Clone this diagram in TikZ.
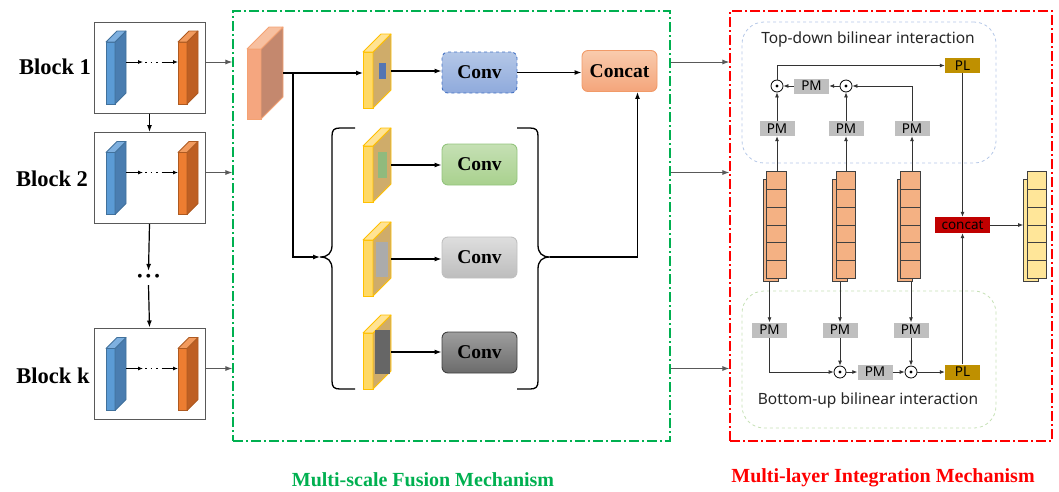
\documentclass[tikz,border=0pt]{standalone}
\usepackage{fontspec}
\setmainfont{Liberation Serif}
\setsansfont{Noto Sans}
\usepackage{tikz}
\usetikzlibrary{arrows.meta,decorations.markings,shapes.multipart}
\definecolor{blueF}{HTML}{5B9BD5}
\definecolor{blueS}{HTML}{4A7DB0}
\definecolor{blueT}{HTML}{7EB0E0}
\definecolor{blueD}{HTML}{41719C}
\definecolor{orgF}{HTML}{ED7D31}
\definecolor{orgS}{HTML}{BE5F23}
\definecolor{orgT}{HTML}{F29B5E}
\definecolor{orgD}{HTML}{AE5A21}
\definecolor{bigF}{HTML}{F5A67F}
\definecolor{bigS}{HTML}{C4886E}
\definecolor{bigT}{HTML}{F7C0A0}
\definecolor{bigD}{HTML}{F4A273}
\definecolor{ylwF}{HTML}{FFD966}
\definecolor{ylwS}{HTML}{CFAC6A}
\definecolor{ylwT}{HTML}{FFE394}
\definecolor{ylwD}{HTML}{FFC000}
\definecolor{fusegreen}{HTML}{00B050}
\definecolor{integred}{HTML}{FF0000}
\definecolor{pmgray}{HTML}{BFBFBF}
\definecolor{plgold}{HTML}{BF9000}
\definecolor{ccred}{HTML}{C00000}
\definecolor{cellorg}{HTML}{F4B183}
\definecolor{cellylw}{HTML}{FFE699}
\definecolor{convbT}{HTML}{B4C7E7}
\definecolor{convbB}{HTML}{8FAADC}
\definecolor{convbD}{HTML}{4472C4}
\definecolor{convgT}{HTML}{C5E0B4}
\definecolor{convgB}{HTML}{A9D18E}
\definecolor{convgD}{HTML}{93C47D}
\definecolor{catT}{HTML}{F9CBAD}
\definecolor{catB}{HTML}{F4A57B}
\definecolor{catD}{HTML}{F19A68}
\tikzset{
	pics/slab/.style n args = {4}{code={
		\node[draw=#4D, fill=#4F, line width=0.8pt, minimum width=#1pt, minimum height=#2pt,
			inner sep=0pt, outer sep=0pt] (-f) at (0,0) {};
		\filldraw[draw=#4D, fill=#4S, line width=0.8pt, line join=round]
			(-f.north east) -- ++(#3,-#3) -- ++(0,#2) -- (-f.south east) -- cycle;
		\filldraw[draw=#4D, fill=#4T, line width=0.8pt, line join=round]
			(-f.north west) -- ++(#3,-#3) -- ++(#1,0) -- (-f.north east) -- cycle;
		\coordinate (-e) at ([shift={(#3,-#3)}]-f.east);
		\coordinate (-c) at ([shift={(#3,-#3/2)}]-f.east);
		\coordinate (-m) at ([shift={(#3/2,-#3/2)}]-f.east);
	}},
	blockbox/.style   = {draw=black!65, line width=1pt, minimum width=111pt, minimum height=91pt},
	blocklabel/.style = {font=\fontsize{22.5}{27}\selectfont\bfseries},
	convbox/.style    = {shape=rectangle, rounded corners=6pt, draw, line width=0.9pt,
		minimum width=75pt, minimum height=41pt, font=\fontsize{19.5}{22}\selectfont\bfseries},
	mechframe/.style  = {draw, line width=1.2pt, dash pattern=on 10pt off 3pt on 2pt off 3pt,
		minimum height=430pt},
	caption/.style    = {font=\fontsize{20}{24}\selectfont\bfseries},
	patch/.style      = {inner sep=0pt, minimum width=#1pt},
	arr/.style        = {-{Latex[length=7pt,width=5pt]}, line width=1.2pt},
	garr/.style       = {-{Latex[length=7pt,width=5pt]}, line width=1pt, black!65},
	sarr/.style       = {-{Latex[length=5pt,width=4pt]}, line width=0.8pt, black!80},
	skiparrow/.style  = {-{Latex[length=5pt,width=4pt]}, line width=0.9pt,
		dash pattern=on 15pt off 4pt on 1.5pt off 4pt on 1.5pt off 4pt on 1.5pt off 4pt on 40pt,
		postaction={decorate}, decoration={markings,
		mark=at position 17pt with {\arrow{Latex[length=5pt,width=4pt]}}}},
	bracepath/.style  = {line width=1.3pt},
	interbox/.style   = {draw, dashed, line width=0.8pt, rounded corners=22pt,
		minimum width=254pt},
	titletext/.style  = {font=\sffamily\fontsize{15.5}{18}\selectfont, text=black!85},
	pmbox/.style      = {fill=pmgray, minimum width=35pt, minimum height=15pt, inner sep=0pt,
		font=\sffamily\fontsize{13.5}{13.5}\selectfont},
	plbox/.style      = {pmbox, fill=plgold},
	odot/.style       = {circle, draw, line width=0.8pt, fill=white, minimum size=12pt, inner sep=0pt,
		path picture={\fill[black] (path picture bounding box.center) circle (1.7pt);}},
	cellstack/.style  = {rectangle split, rectangle split parts=6, draw=black!75, fill=cellorg,
		line width=0.8pt, inner sep=0pt, rectangle split empty part width=15pt,
		rectangle split empty part height=17pt, rectangle split empty part depth=0pt},
	cellback/.style   = {draw=black!75, fill=cellorg, line width=0.8pt, inner sep=0pt,
		minimum width=15pt, minimum height=102pt}
}
\begin{document}
\begin{tikzpicture}[x=1pt, y=-1pt]
\useasboundingbox (0,0) rectangle (1059,491);

\node [mechframe, draw=fusegreen, minimum width=437pt] (fusion) at (451.5,226) {};
\node [mechframe, draw=integred, minimum width=322pt] (integ) at (891,226) {};
\node [caption, text=fusegreen] (fcap) at (423,480) {Multi-scale Fusion Mechanism};
\node [caption, text=integred] (icap) at (883,478) {Multi-layer Integration Mechanism};

\node [blockbox] (bx1) at (149.5,67.5) {};
\node [blockbox] (bx2) at (149.5,178) {};
\node [blockbox] (bxk) at (149.5,373.5) {};
\node [blocklabel] (lb1) at (55,67) {Block 1};
\node [blocklabel] (lb2) at (52,179) {Block 2};
\node [blocklabel] (lbk) at (53,376) {Block k};
\pic (bl1) at (110.5,73) {slab={9}{62}{11}{blue}};
\pic (or1) at (182.5,73) {slab={9}{62}{11}{org}};
\pic (bl2) at (110.5,183.5) {slab={9}{62}{11}{blue}};
\pic (or2) at (182.5,183.5) {slab={9}{62}{11}{org}};
\pic (blk) at (110.5,379.5) {slab={9}{62}{11}{blue}};
\pic (ork) at (182.5,379.5) {slab={9}{62}{11}{org}};
\draw[skiparrow] (bl1-e) -- (or1-f.west |- bl1-e);
\draw[skiparrow] (bl2-e) -- (or2-f.west |- bl2-e);
\draw[skiparrow] (blk-e) -- (ork-f.west |- blk-e);
\node [font=\fontsize{16}{16}\selectfont] (vdots) at (148.5,278) {\textbullet\hspace{3pt}\textbullet\hspace{3pt}\textbullet};
\draw[arr] (bx1.south) -- (bx2.north);
\draw[arr] (bx2.south) -- (vdots.north);
\draw[arr] (vdots.south) -- (bxk.north);
\draw[garr] (bx1.east |- bl1-e) -- (fusion.west |- bl1-e);
\draw[garr] (bx2.east |- bl2-e) -- (fusion.west |- bl2-e);
\draw[garr] (bxk.east |- blk-e) -- (fusion.west |- blk-e);

\pic (big) at (254,84) {slab={14}{70}{22}{big}};
\pic (y1) at (368,80) {slab={10}{56}{18}{ylw}};
\pic (y2) at (368,174) {slab={10}{56}{18}{ylw}};
\pic (y3) at (368,268) {slab={10}{56}{18}{ylw}};
\pic (y4) at (368,361) {slab={10}{56}{18}{ylw}};
\node [patch=7, minimum height=16pt, fill=convbD!75!gray] (p1) at (y1-m) {};
\node [patch=9, minimum height=26pt, fill=convgD!85!gray] (p2) at (y2-m) {};
\node [patch=12, minimum height=35pt, fill=black!33] (p3) at (y3-m) {};
\node [patch=15, minimum height=44pt, fill=black!60] (p4) at (y4-m) {};
\node [convbox, dashed, draw=convbD, top color=convbT, bottom color=convbB] (c1) at (479.5,72.5) {Conv};
\node [convbox, draw=convgD, top color=convgT, bottom color=convgB] (c2) at (479.5,164.5) {Conv};
\node [convbox, draw=black!25, top color=black!13, bottom color=black!26] (c3) at (479.5,257.5) {Conv};
\node [convbox, draw=black!75, top color=black!38, bottom color=black!58] (c4) at (479.5,352.5) {Conv};
\node [convbox, draw=catD, top color=catT, bottom color=catB] (cat) at (619.5,71) {Concat};
\coordinate (split) at ([xshift=10pt]big-c);
\draw[arr] (big-c) -- (y1-f.west |- big-c);
\draw[bracepath] (355,128) -- (340,128) .. controls (334,128) and (332,130) .. (332,136) -- (332,245)
	.. controls (332,253) and (328,257) .. (320,257) .. controls (328,257) and (332,261) .. (332,269)
	-- (332,381) .. controls (332,387) and (334,389) .. (340,389) -- (355,389);
\coordinate (ltip) at (320,257);
\draw[bracepath] (517,128) -- (530,128) .. controls (536,128) and (538,130) .. (538,136) -- (538,245)
	.. controls (538,253) and (542,257) .. (550,257) .. controls (542,257) and (538,261) .. (538,269)
	-- (538,381) .. controls (538,387) and (536,389) .. (530,389) -- (517,389);
\coordinate (rtip) at (550,257);
\draw[arr] (split) |- (ltip);
\draw[arr] (y1-c) -- (c1.west |- y1-c);
\draw[arr] (y2-c) -- (c2.west |- y2-c);
\draw[arr] (y3-c) -- (c3.west |- y3-c);
\draw[arr] (y4-c) -- (c4.west |- y4-c);
\draw[arr] (c1.east) -- (cat.west |- c1.east);
\draw[arr] (rtip) -| ([xshift=18pt]cat.south);
\draw[garr] (fusion.east |- bl1-e) -- (integ.west |- bl1-e);
\draw[garr] (fusion.east |- bl2-e) -- (integ.west |- bl2-e);
\draw[garr] (fusion.east |- blk-e) -- (integ.west |- blk-e);

\node [interbox, draw=convbT, minimum height=141pt] (topdown) at (869,92.5) {};
\node [interbox, draw=convgT, minimum height=137pt] (bottomup) at (869,359.5) {};
\node [titletext] (tdtitle) at (868,39) {Top-down bilinear interaction};
\node [titletext] (butitle) at (868,400) {Bottom-up bilinear interaction};
\node [cellback] (s1b) at (770.5,230.5) {};
\node [cellstack] (s1) at (776.5,225) {};
\node [cellback] (s2b) at (840,230.5) {};
\node [cellstack] (s2) at (846,225) {};
\node [cellback] (s3b) at (904.5,230.5) {};
\node [cellstack] (s3) at (910.5,225) {};
\node [cellback, fill=cellylw] (syb) at (1031,230.5) {};
\node [cellstack, fill=cellylw] (sy) at (1037,225) {};
\node [pmbox] (pmt1) at (777,128.5) {PM};
\node [pmbox] (pmt2) at (846,128.5) {PM};
\node [pmbox] (pmt3) at (912,128.5) {PM};
\node [odot] (ot1) at (777,86) {};
\node [odot] (ot2) at (846,86) {};
\node [pmbox] (pmtm) at (811.5,86) {PM};
\node [plbox] (plt) at (962.5,65.5) {PL};
\node [pmbox, fill=ccred, minimum width=55pt, minimum height=16pt] (cc) at (962.5,225) {concat};
\node [pmbox] (pmb1) at (769.5,330) {PM};
\node [pmbox] (pmb2) at (840,330) {PM};
\node [pmbox] (pmb3) at (911,330) {PM};
\node [odot] (ob1) at (840,372) {};
\node [pmbox] (pmbm) at (875,372) {PM};
\node [odot] (ob2) at (911,372) {};
\node [plbox] (plb) at (962.5,372) {PL};
\draw[sarr] (pmt1.south |- s1.north) -- (pmt1.south);
\draw[sarr] (pmt2.south |- s2.north) -- (pmt2.south);
\draw[sarr] (pmt3.south |- s3.north) -- (pmt3.south);
\draw[sarr] (pmt1.north) -- (ot1.south);
\draw[sarr] (pmt2.north) -- (ot2.south);
\draw[sarr] (pmt3.north) |- (ot2.east);
\draw[sarr] (ot2.west) -- (pmtm.east);
\draw[sarr] (pmtm.west) -- (ot1.east);
\draw[sarr] (ot1.north) |- (plt.west);
\draw[sarr] (plt.south) -- (cc.north);
\draw[sarr] (cc.east) -- (syb.west |- cc.east);
\draw[sarr] (pmb1.north |- s1b.south) -- (pmb1.north);
\draw[sarr] (pmb2.north |- s2b.south) -- (pmb2.north);
\draw[sarr] (pmb3.north |- s3b.south) -- (pmb3.north);
\draw[sarr] (pmb1.south) |- (ob1.west);
\draw[sarr] (pmb2.south) -- (ob1.north);
\draw[sarr] (ob1.east) -- (pmbm.west);
\draw[sarr] (pmbm.east) -- (ob2.west);
\draw[sarr] (pmb3.south) -- (ob2.north);
\draw[sarr] (ob2.east) -- (plb.west);
\draw[sarr] (plb.north) -- (cc.south);
\end{tikzpicture}
\end{document}
